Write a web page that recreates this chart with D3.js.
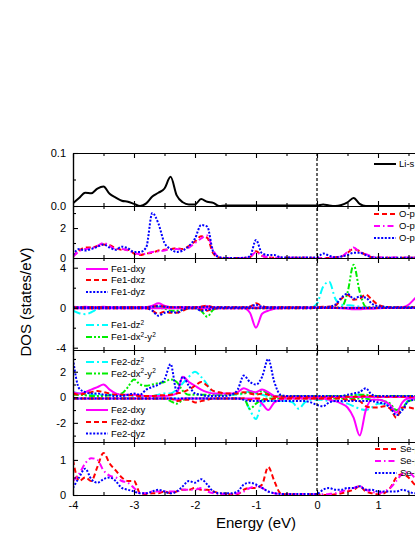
<!DOCTYPE html>
<html>
<head>
<meta charset="utf-8">
<script src="https://cdn.jsdelivr.net/npm/d3@7"></script>
<style>
body { margin: 0; background: #fff; }
svg { display: block; font-family: Arial, "Liberation Sans", sans-serif; }
</style>
</head>
<body>
<svg id="chart" width="415" height="537"></svg>
<script>
// energy grid, eV
var energy = [
  -4.0,-3.9,-3.8,-3.7,-3.6,-3.5,-3.4,-3.3,-3.2,-3.1,
  -3.0,-2.9,-2.8,-2.7,-2.6,-2.5,-2.4,-2.3,-2.2,-2.1,
  -2.0,-1.9,-1.8,-1.7,-1.6,-1.5,-1.4,-1.3,-1.2,-1.1,
  -1.0,-0.9,-0.8,-0.7,-0.6,-0.5,-0.4,-0.3,-0.2,-0.1,
   0.0, 0.1, 0.2, 0.3, 0.4, 0.5, 0.6, 0.7, 0.8, 0.9,
   1.0, 1.1, 1.2, 1.3, 1.4, 1.5, 1.6, 1.7];

// Li-s
var liS = [
  0.005,0.015,0.025,0.024,0.033,0.037,0.023,0.016,0.010,0.008,
  0.004,0.000,0.005,0.018,0.025,0.033,0.055,0.020,0.007,0.003,
  0.003,0.013,0.008,0.006,0.000,0.001,0.001,0.001,0.001,0.001,
  0.001,0.001,0.001,0.001,0.001,0.001,0.001,0.001,0.001,0.001,
  0.001,0.003,0.001,0.000,0.002,0.007,0.015,0.004,0.000,0.000,
  0.000,0.000,0.000,0.000,0.000,0.000,0.000,0.000];

// O-p (three components)
var opRed = [
  0.1,0.5,0.7,0.7,0.8,0.9,0.85,0.65,0.55,0.55,
  0.3,0.2,0.3,0.35,0.5,0.55,0.6,0.65,0.6,0.8,
  1.1,1.45,1.35,0.3,0.02,0.0,0.0,0.0,0.0,0.05,
  0.45,0.15,0.05,0.02,0.02,0.01,0.01,0.01,0.01,0.01,
  0.0,0.0,0.0,0.05,0.1,0.35,0.6,0.45,0.2,0.05,
  0.03,0.02,0.02,0.02,0.02,0.02,0.02,0.02];
var opMag = [
  0.1,0.45,0.6,0.65,0.8,1.0,0.8,0.6,0.6,0.5,
  0.35,0.25,0.3,0.4,0.45,0.5,0.6,0.6,0.55,0.7,
  1.0,1.3,1.5,0.5,0.05,0.0,0.0,0.0,0.0,0.05,
  0.4,0.15,0.05,0.02,0.02,0.01,0.01,0.01,0.01,0.01,
  0.0,0.0,0.02,0.05,0.1,0.4,0.7,0.4,0.25,0.1,
  0.03,0.03,0.03,0.03,0.03,0.03,0.03,0.03];
var opBlue = [
  0.2,0.6,0.5,0.6,0.75,0.9,0.7,0.55,0.75,0.65,
  0.4,0.4,0.7,3.0,2.3,1.0,0.6,0.4,0.5,0.8,
  1.3,2.2,2.1,0.4,0.05,0.0,0.0,0.0,0.02,0.1,
  1.2,0.3,0.2,0.2,0.05,0.03,0.03,0.03,0.03,0.03,
  0.05,0.3,0.15,0.05,0.1,0.2,0.35,0.35,0.2,0.05,
  0.02,0.02,0.02,0.02,0.02,0.02,0.02,0.02];

// Fe1 d orbitals, spin up / spin down
var fe1DxyUp = [
  0.1,0.05,0.1,0.05,0.05,0.1,0.05,0.05,0.05,0.05,
  0.05,0.05,0.05,0.2,0.45,0.2,0.05,0.05,0.05,0.05,
  0.05,0.1,0.15,0.05,0.02,0.02,0.02,0.02,0.02,0.02,
  0.02,0.02,0.02,0.02,0.02,0.02,0.02,0.02,0.02,0.02,
  0.0,0.0,0.0,0.0,0.0,0.0,0.0,0.0,0.0,0.0,
  0.0,0.0,0.0,0.0,0.05,0.3,0.9,1.5];
var fe1DxyDn = [
  -0.05,-0.05,-0.05,-0.05,-0.05,-0.05,-0.05,-0.05,-0.05,-0.05,
  -0.05,-0.05,-0.05,-0.05,-0.05,-0.05,-0.05,-0.05,-0.05,-0.05,
  -0.05,-0.05,-0.05,-0.05,-0.05,-0.05,-0.05,-0.05,-0.05,-0.5,
  -2.0,-0.6,-0.3,-0.1,-0.05,-0.02,-0.02,-0.02,-0.02,-0.02,
  -0.02,-0.02,-0.02,-0.02,-0.05,-0.1,-0.15,-0.15,-0.1,-0.1,
  -0.05,-0.02,-0.02,-0.02,-0.02,-0.02,-0.02,-0.02];
var fe1DxzUp = [
  0.05,0.05,0.05,0.05,0.05,0.05,0.05,0.05,0.05,0.05,
  0.05,0.05,0.05,0.1,0.2,0.1,0.05,0.05,0.05,0.05,
  0.05,0.1,0.2,0.05,0.05,0.05,0.05,0.05,0.05,0.1,
  0.45,0.15,0.05,0.05,0.05,0.05,0.05,0.05,0.05,0.05,
  0.05,0.1,0.1,0.2,0.9,1.3,0.8,0.9,1.3,0.8,
  0.3,0.1,0.05,0.05,0.05,0.05,0.05,0.05];
var fe1DxzDn = [
  -0.05,-0.05,-0.05,-0.05,-0.05,-0.05,-0.05,-0.05,-0.05,-0.05,
  -0.05,-0.05,-0.05,-0.3,-0.6,-0.4,-0.5,-0.5,-0.3,-0.05,
  -0.05,-0.2,-0.3,-0.1,-0.05,-0.05,-0.05,-0.05,-0.05,-0.05,
  -0.05,-0.05,-0.05,-0.05,-0.05,-0.05,-0.05,-0.05,-0.05,-0.05,
  -0.02,-0.02,-0.02,-0.02,-0.02,-0.02,-0.02,-0.02,-0.02,-0.02,
  -0.02,-0.02,-0.02,-0.02,-0.02,-0.02,-0.02,-0.02];
var fe1DyzUp = [
  0.05,0.05,0.05,0.05,0.05,0.05,0.05,0.05,0.05,0.05,
  0.05,0.05,0.05,0.1,0.15,0.1,0.05,0.05,0.05,0.05,
  0.05,0.05,0.1,0.05,0.05,0.05,0.05,0.05,0.05,0.1,
  0.3,0.1,0.05,0.05,0.05,0.05,0.05,0.05,0.05,0.05,
  0.05,0.05,0.1,0.3,1.0,1.4,0.9,1.1,1.0,0.4,
  0.15,0.1,0.05,0.05,0.05,0.05,0.05,0.05];
var fe1DyzDn = [
  -0.05,-0.05,-0.05,-0.05,-0.05,-0.05,-0.05,-0.05,-0.05,-0.05,
  -0.05,-0.05,-0.05,-0.3,-0.8,-0.5,-0.4,-0.5,-0.2,-0.05,
  -0.05,-0.3,-0.2,-0.1,-0.05,-0.05,-0.05,-0.05,-0.05,-0.05,
  -0.05,-0.05,-0.05,-0.05,-0.05,-0.05,-0.05,-0.05,-0.05,-0.05,
  -0.02,-0.02,-0.02,-0.02,-0.02,-0.02,-0.02,-0.02,-0.02,-0.02,
  -0.02,-0.02,-0.02,-0.02,-0.02,-0.02,-0.02,-0.02];
var fe1Dz2Up = [
  0,0,0,0,0,0,0,0,0,0,
  0,0,0,0.1,0.1,0.1,0,0,0,0,
  0,0.1,0,0,0,0,0,0,0,0,
  0,0,0,0,0,0,0,0,0,0,
  0.4,2.1,2.6,0.9,0.3,0.25,0.2,0.1,0.05,0,
  0,0,0,0,0,0,0,0];
var fe1Dz2Dn = [
  -0.3,-0.55,-0.65,-0.45,-0.15,-0.05,-0.02,-0.02,-0.02,-0.02,
  -0.02,-0.02,-0.02,-0.02,-0.02,-0.02,-0.02,-0.02,-0.02,-0.02,
  -0.02,-0.02,-0.02,-0.02,-0.02,-0.02,-0.02,-0.02,-0.02,-0.02,
  -0.02,-0.02,-0.02,-0.02,-0.02,-0.02,-0.02,-0.02,-0.02,-0.02,
  -0.02,-0.02,-0.02,-0.02,-0.02,-0.02,-0.02,-0.02,-0.02,-0.02,
  -0.02,-0.02,-0.02,-0.02,-0.02,-0.02,-0.02,-0.02];
var fe1Dx2Up = [
  0,0,0,0,0,0,0,0,0,0,
  0,0,0,0,0,0,0,0,0,0,
  0,0,0,0,0,0,0,0,0,0,
  0,0,0,0,0,0,0,0,0,0,
  0,0,0,0.02,0.05,1.5,4.3,1.6,0.1,0.05,
  0.02,0.02,0.02,0.02,0.02,0.02,0.02,0.02];
var fe1Dx2Dn = [
  -0.02,-0.02,-0.02,-0.02,-0.02,-0.02,-0.02,-0.02,-0.02,-0.02,
  -0.02,-0.02,-0.02,-0.02,-0.02,-0.1,-0.3,-0.3,-0.2,-0.05,
  -0.05,-0.3,-0.9,-0.2,-0.02,-0.02,-0.02,-0.02,-0.02,-0.02,
  -0.02,-0.02,-0.02,-0.02,-0.02,-0.02,-0.02,-0.02,-0.02,-0.02,
  -0.02,-0.02,-0.02,-0.02,-0.02,-0.02,-0.02,-0.02,-0.02,-0.02,
  -0.02,-0.02,-0.02,-0.02,-0.02,-0.02,-0.02,-0.02];

// Fe2 d orbitals, spin up / spin down
var fe2DxyUp = [
  0.4,0.3,0.4,0.6,0.8,1.0,0.6,0.3,0.2,0.2,
  0.2,0.15,0.1,0.1,0.1,0.1,0.15,0.3,1.6,1.2,
  0.9,0.6,0.4,0.3,0.3,0.3,0.3,0.4,0.7,0.5,
  0.4,0.6,0.4,0.1,0.05,0.05,0.05,0.05,0.05,0.05,
  0.02,0.02,0.02,0.02,0.02,0.02,0.02,0.02,0.02,0.02,
  0.02,0.02,0.02,0.02,0.02,0.02,0.02,0.02];
var fe2DxyDn = [
  -0.1,-0.1,-0.1,-0.1,-0.1,-0.1,-0.1,-0.1,-0.1,-0.1,
  -0.1,-0.1,-0.1,-0.1,-0.1,-0.1,-0.1,-0.2,-0.1,-0.1,
  -0.1,-0.1,-0.1,-0.1,-0.1,-0.1,-0.1,-0.1,-0.1,-0.1,
  -0.1,-0.5,-1.0,-0.4,-0.2,-0.1,-0.1,-0.1,-0.1,-0.1,
  -0.1,-0.1,-0.2,-0.3,-0.5,-0.8,-1.6,-3.0,-1.0,-0.2,
  -0.2,-0.3,-0.6,-1.2,-0.4,-0.1,-0.1,-0.1];
var fe2DxzUp = [
  0.3,0.2,0.3,0.4,0.5,0.4,0.3,0.2,0.2,0.15,
  0.15,0.1,0.1,0.1,0.15,0.15,0.2,0.3,0.4,0.6,
  0.9,1.2,0.9,0.5,0.4,0.3,0.3,0.3,0.4,0.3,
  0.2,0.3,0.2,0.05,0.05,0.05,0.05,0.05,0.05,0.05,
  0.05,0.05,0.05,0.05,0.05,0.05,0.05,0.05,0.1,0.1,
  0.05,0.05,0.05,0.05,0.05,0.05,0.05,0.05];
var fe2DxzDn = [
  -0.1,-0.1,-0.1,-0.1,-0.1,-0.1,-0.1,-0.1,-0.1,-0.1,
  -0.1,-0.1,-0.1,-0.1,-0.1,-0.1,-0.1,-0.3,-0.2,-0.2,
  -0.4,-0.3,-0.2,-0.1,-0.1,-0.1,-0.1,-0.1,-0.1,-0.2,
  -0.1,-0.1,-0.2,-0.1,-0.1,-0.1,-0.1,-0.1,-0.1,-0.1,
  -0.1,-0.1,-0.1,-0.1,-0.1,-0.2,-0.2,-0.3,-0.7,-0.8,
  -0.8,-0.7,-0.9,-1.6,-0.8,-0.8,-0.9,-1.0];
var fe2DyzUp = [
  3.0,0.7,0.4,0.3,0.3,0.2,0.15,0.1,0.1,0.2,
  0.3,0.2,0.6,0.8,1.0,1.4,2.6,0.5,1.6,0.9,
  0.3,0.2,0.1,0.1,0.1,0.1,0.2,0.6,1.7,1.2,
  1.0,1.6,3.0,1.2,0.2,0.1,0.1,0.1,0.1,0.1,
  0.1,0.1,0.1,0.1,0.1,0.2,0.3,0.4,0.7,0.2,
  0.1,0.1,0.1,0.1,0.1,0.1,0.1,0.1];
var fe2DyzDn = [
  -0.1,-0.1,-0.1,-0.1,-0.1,-0.1,-0.1,-0.1,-0.1,-0.1,
  -0.1,-0.1,-0.1,-0.1,-0.1,-0.1,-0.1,-0.1,-0.1,-0.1,
  -0.1,-0.1,-0.1,-0.1,-0.1,-0.1,-0.1,-0.1,-0.2,-0.3,
  -0.3,-0.3,-0.3,-0.3,-0.3,-0.3,-0.3,-0.3,-0.3,-0.4,
  -0.6,-0.7,-0.4,-0.3,-0.3,-0.3,-0.3,-0.3,-0.3,-0.3,
  -0.4,-0.5,-0.8,-1.4,-1.0,-0.3,-0.2,-0.2];
var fe2Dz2Up = [
  0.4,0.3,0.2,0.2,0.2,0.2,0.2,0.2,0.15,0.15,
  0.1,0.1,0.1,0.1,0.2,0.3,0.3,0.6,1.1,1.6,
  2.0,1.6,1.0,0.3,0.2,0.2,0.2,0.2,0.3,0.5,
  0.3,0.2,0.1,0.1,0.1,0.05,0.05,0.05,0.05,0.05,
  0.05,0.05,0.05,0.05,0.05,0.1,0.2,0.2,0.1,0.05,
  0.05,0.05,0.05,0.05,0.05,0.05,0.05,0.05];
var fe2Dz2Dn = [
  -0.1,-0.1,-0.1,-0.1,-0.1,-0.1,-0.1,-0.1,-0.1,-0.1,
  -0.1,-0.1,-0.1,-0.1,-0.1,-0.1,-0.1,-0.1,-0.1,-0.1,
  -0.1,-0.1,-0.1,-0.1,-0.1,-0.1,-0.1,-0.1,-0.1,-1.0,
  -1.7,-0.4,-0.3,-0.3,-0.3,-0.3,-0.4,-0.9,-0.4,-0.2,
  -0.2,-0.2,-0.3,-0.3,-0.4,-0.5,-0.7,-0.9,-1.0,-0.8,
  -0.5,-0.5,-0.8,-1.0,-0.9,-0.2,-0.1,-0.1];
var fe2Dx2Up = [
  0.2,0.2,0.15,0.1,0.1,0.1,0.15,0.2,0.3,0.8,
  1.4,1.0,0.9,1.0,1.1,1.2,1.4,1.2,0.5,0.2,
  0.2,0.2,0.2,0.2,0.2,0.2,0.2,0.3,0.3,0.4,
  0.3,0.5,0.3,0.1,0.1,0.1,0.1,0.1,0.1,0.1,
  0.1,0.1,0.1,0.1,0.1,0.1,0.15,0.2,0.2,0.1,
  0.1,0.1,0.1,0.1,0.1,0.1,0.1,0.1];
var fe2Dx2Dn = [
  -0.1,-0.1,-0.1,-0.1,-0.1,-0.1,-0.1,-0.1,-0.1,-0.1,
  -0.1,-0.1,-0.1,-0.1,-0.1,-0.1,-0.3,-0.5,-0.2,-0.1,
  -0.1,-0.1,-0.1,-0.1,-0.1,-0.1,-0.1,-0.1,-0.1,-0.9,
  -0.5,-0.2,-0.1,-0.1,-0.1,-0.1,-0.1,-0.1,-0.1,-0.1,
  -0.1,-0.1,-0.1,-0.1,-0.1,-0.1,-0.1,-0.1,-0.1,-0.2,
  -0.2,-0.3,-0.5,-1.0,-0.8,-0.3,-0.2,-0.2];

// Se-p (three components)
var seRed = [
  1.0,0.4,0.5,0.4,0.8,1.2,0.9,0.7,0.5,0.4,
  0.4,0.05,0.03,0.05,0.05,0.1,0.05,0.1,0.15,0.15,
  0.2,0.15,0.15,0.1,0.05,0.03,0.02,0.03,0.15,0.2,
  0.2,0.3,0.8,0.4,0.05,0.02,0.02,0.02,0.02,0.02,
  0.02,0.0,0.0,0.02,0.05,0.1,0.15,0.25,0.1,0.05,
  0.02,0.05,0.2,0.5,0.6,0.5,0.3,0.2];
var seMag = [
  0.4,0.6,0.9,1.05,1.0,0.7,0.55,0.5,0.4,0.35,
  0.2,0.05,0.05,0.1,0.1,0.1,0.1,0.1,0.15,0.15,
  0.15,0.2,0.1,0.05,0.03,0.03,0.03,0.05,0.1,0.2,
  0.25,0.2,0.1,0.05,0.03,0.02,0.02,0.02,0.02,0.02,
  0.02,0.02,0.03,0.05,0.1,0.15,0.2,0.25,0.15,0.1,
  0.05,0.1,0.2,0.4,0.6,0.65,0.5,0.4];
var seBlue = [
  0.2,0.5,0.75,0.45,0.35,0.45,0.5,0.4,0.2,0.15,
  0.1,0.05,0.05,0.1,0.15,0.1,0.05,0.1,0.25,0.4,
  0.35,0.45,0.3,0.1,0.05,0.05,0.05,0.1,0.3,0.35,
  0.3,0.2,0.1,0.05,0.03,0.03,0.03,0.03,0.03,0.03,
  0.03,0.15,0.2,0.15,0.15,0.2,0.2,0.25,0.15,0.15,
  0.1,0.1,0.1,0.1,0.15,0.1,0.05,0.05];

// legend labels (^ marks a superscript digit)
var liLabels = ["Li-s"];
var oLabels = ["O-px", "O-py", "O-pz"];
var fe1Labels = ["Fe1-dxy", "Fe1-dxz", "Fe1-dyz", "Fe1-dz^2", "Fe1-dx^2-y^2"];
var fe2Labels = ["Fe2-dxy", "Fe2-dxz", "Fe2-dyz", "Fe2-dz^2", "Fe2-dx^2-y^2"];
var seLabels = ["Se-px", "Se-py", "Se-pz"];

var xTicks = [-4, -3, -2, -1, 0, 1, 2];
var xMinorTicks = [-3.5, -2.5, -1.5, -0.5, 0.5, 1.5];

// line styles
var st = {
  black:  { color: "#000000", dash: null },
  red:    { color: "#ff0000", dash: "5,3" },
  mag:    { color: "#ff00ff", dash: "6,3,1.5,3" },
  magS:   { color: "#ff00ff", dash: null },
  blue:   { color: "#0000ff", dash: "2,1.6" },
  cyan:   { color: "#00ffff", dash: "8,3,2,3" },
  green:  { color: "#00ee00", dash: "6,2,2,2,2,2" }
};

var svg = d3.select("#chart");
var x = d3.scaleLinear().domain([-4, 2]).range([73, 439]);

var panels = [
  { top: 153, bottom: 206, domain: [0, 0.1], ticks: [0, 0.1], minor: [0.05],
    fmt: function(d) { return d.toFixed(1); },
    series: [{ v: [liS], s: st.black }],
    legend: [{ label: liLabels[0], s: st.black, x: 374, y: 164 }] },
  { top: 206, bottom: 258, domain: [0, 3.47], ticks: [0, 2], minor: [1, 3],
    series: [{ v: [opRed], s: st.red }, { v: [opMag], s: st.mag }, { v: [opBlue], s: st.blue }],
    legend: [{ label: oLabels[0], s: st.red, x: 374, y: 214 },
             { label: oLabels[1], s: st.mag, x: 374, y: 226 },
             { label: oLabels[2], s: st.blue, x: 374, y: 238 }] },
  { top: 258, bottom: 350, domain: [-4.23, 4.97], ticks: [-4, 0, 4], minor: [-2, 2],
    series: [{ v: [fe1Dz2Up, fe1Dz2Dn], s: st.cyan }, { v: [fe1Dx2Up, fe1Dx2Dn], s: st.green },
             { v: [fe1DxyUp, fe1DxyDn], s: st.magS }, { v: [fe1DxzUp, fe1DxzDn], s: st.red },
             { v: [fe1DyzUp, fe1DyzDn], s: st.blue }],
    legend: [{ label: fe1Labels[0], s: st.magS, x: 86, y: 269 },
             { label: fe1Labels[1], s: st.red, x: 86, y: 280 },
             { label: fe1Labels[2], s: st.blue, x: 86, y: 292 },
             { label: fe1Labels[3], s: st.cyan, x: 86, y: 325 },
             { label: fe1Labels[4], s: st.green, x: 86, y: 337 }] },
  { top: 350, bottom: 442, domain: [-3.5, 3.7], ticks: [-2, 0, 2], minor: [-3, -1, 1, 3],
    series: [{ v: [fe2Dz2Up, fe2Dz2Dn], s: st.cyan }, { v: [fe2Dx2Up, fe2Dx2Dn], s: st.green },
             { v: [fe2DxyUp, fe2DxyDn], s: st.magS }, { v: [fe2DxzUp, fe2DxzDn], s: st.red },
             { v: [fe2DyzUp, fe2DyzDn], s: st.blue }],
    legend: [{ label: fe2Labels[3], s: st.cyan, x: 86, y: 362 },
             { label: fe2Labels[4], s: st.green, x: 86, y: 373.5 },
             { label: fe2Labels[0], s: st.magS, x: 86, y: 410 },
             { label: fe2Labels[1], s: st.red, x: 86, y: 422 },
             { label: fe2Labels[2], s: st.blue, x: 86, y: 433.5 }] },
  { top: 442, bottom: 495, domain: [0, 1.51], ticks: [0, 1], minor: [0.5],
    series: [{ v: [seRed], s: st.red }, { v: [seMag], s: st.mag }, { v: [seBlue], s: st.blue }],
    legend: [{ label: seLabels[0], s: st.red, x: 375, y: 449 },
             { label: seLabels[1], s: st.mag, x: 375, y: 461 },
             { label: seLabels[2], s: st.blue, x: 375, y: 473 }] }
];

// "^2" in a label becomes a raised small digit; the next part drops back down
function writeLabel(sel, txt) {
  var parts = txt.split(/\^(\d)/);
  var back = 0;
  parts.forEach(function(p, k) {
    if (p === "") return;
    if (k % 2 === 1) {
      sel.append("tspan").attr("dy", -3.5 + back).attr("font-size", 6.5).text(p);
      back = 3.5;
    } else {
      var t = sel.append("tspan").text(p);
      if (back) t.attr("dy", back);
      back = 0;
    }
  });
}

// axis helper: draws the ticks and drops the empty labels
function ticksOnly(sel, axis) {
  sel.call(axis.tickFormat(""));
  sel.selectAll("text").remove();
}

panels.forEach(function(p, i) {
  var y = d3.scaleLinear().domain(p.domain).range([p.bottom, p.top]);
  var g = svg.append("g");

  svg.append("clipPath").attr("id", "clip" + i)
    .append("rect").attr("x", 73).attr("y", p.top)
    .attr("width", 366).attr("height", p.bottom - p.top);

  var line = d3.line()
    .x(function(d, j) { return x(energy[j]); })
    .y(function(d) { return y(d); })
    .curve(d3.curveMonotoneX);

  var lines = g.append("g").attr("clip-path", "url(#clip" + i + ")");
  p.series.forEach(function(s) {
    s.v.forEach(function(vals) {
      lines.append("path")
        .attr("d", line(vals))
        .attr("fill", "none")
        .attr("stroke", s.s.color)
        .attr("stroke-width", 2)
        .attr("stroke-dasharray", s.s.dash)
        .attr("stroke-linejoin", "round");
    });
  });

  // y axis: majors with labels, minors without
  var fmt = p.fmt || function(d) { return String(d); };
  g.append("g").attr("transform", "translate(73,0)")
    .call(d3.axisLeft(y).tickValues(p.ticks).tickSize(-5).tickSizeOuter(0).tickPadding(7).tickFormat(fmt));
  g.append("g").attr("transform", "translate(73,0)")
    .call(ticksOnly, d3.axisLeft(y).tickValues(p.minor).tickSize(-3).tickSizeOuter(0));

  // x axes at top and bottom of each panel, ticks inward
  g.append("g").attr("transform", "translate(0," + p.top + ")")
    .call(ticksOnly, d3.axisTop(x).tickValues(xTicks).tickSize(-5).tickSizeOuter(0));
  g.append("g").attr("transform", "translate(0," + p.top + ")")
    .call(ticksOnly, d3.axisTop(x).tickValues(xMinorTicks).tickSize(-3).tickSizeOuter(0));
  if (i === panels.length - 1) {
    g.append("g").attr("transform", "translate(0," + p.bottom + ")")
      .call(d3.axisBottom(x).tickValues(xTicks).tickSize(-5).tickSizeOuter(0).tickPadding(6.5)
        .tickFormat(function(d) { return String(d); }));
  } else {
    g.append("g").attr("transform", "translate(0," + p.bottom + ")")
      .call(ticksOnly, d3.axisBottom(x).tickValues(xTicks).tickSize(-5).tickSizeOuter(0));
  }
  g.append("g").attr("transform", "translate(0," + p.bottom + ")")
    .call(ticksOnly, d3.axisBottom(x).tickValues(xMinorTicks).tickSize(-3).tickSizeOuter(0));

  // legend
  var lg = g.append("g");
  p.legend.forEach(function(e) {
    lg.append("line")
      .attr("x1", e.x).attr("x2", e.x + 22).attr("y1", e.y).attr("y2", e.y)
      .attr("stroke", e.s.color).attr("stroke-width", 2)
      .attr("stroke-dasharray", e.s.dash);
    var t = lg.append("text").attr("x", e.x + 25).attr("y", e.y + 3.4)
      .attr("font-size", 9.5).attr("fill", "#000");
    writeLabel(t, e.label);
  });
});

svg.selectAll(".domain").attr("stroke", "#000").attr("stroke-width", 1.2);
svg.selectAll(".tick line").attr("stroke", "#000").attr("stroke-width", 1.1);
svg.selectAll(".tick text").attr("font-size", 11).attr("fill", "#000")
  .attr("font-family", "Arial, 'Liberation Sans', sans-serif");

// Fermi level
svg.append("line")
  .attr("x1", x(0)).attr("x2", x(0)).attr("y1", 153).attr("y2", 495)
  .attr("stroke", "#000").attr("stroke-width", 1.2).attr("stroke-dasharray", "3,2");

// axis titles
svg.append("text").attr("x", 256).attr("y", 528).attr("text-anchor", "middle")
  .attr("font-size", 15).text("Energy (eV)");
svg.append("text").attr("transform", "translate(31,302) rotate(-90)")
  .attr("text-anchor", "middle").attr("font-size", 15).text("DOS (states/eV)");
</script>
</body>
</html>
